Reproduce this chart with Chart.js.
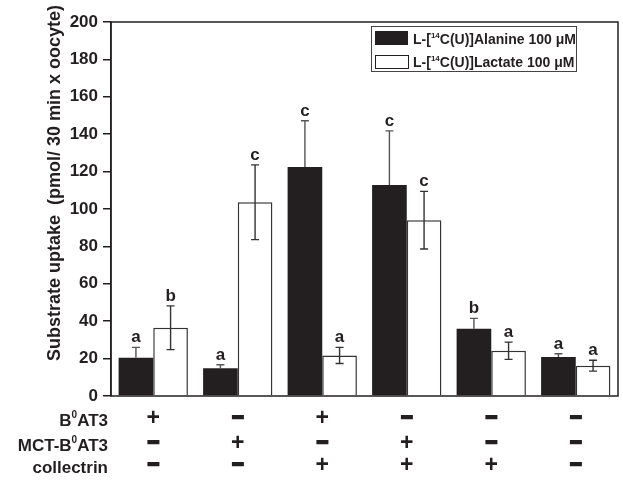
<!DOCTYPE html>
<html lang="en">
<head>
<meta charset="UTF-8">
<title>Substrate uptake</title>
<script src="https://cdn.jsdelivr.net/npm/chart.js"></script>
<style>
  html, body { margin: 0; padding: 0; background: #fff; }
  #wrap { width: 623px; height: 481px; }
</style>
</head>
<body>
<div id="wrap"><canvas id="uptakeChart" width="623" height="481"></canvas></div>
<script>
// data
var groups = ['1', '2', '3', '4', '5', '6'];
var alanine = [20.5, 14.8, 122.5, 112.8, 36, 20.8];
var alanineErr = [5.5, 1.9, 24.7, 29, 5.5, 1.8];
var lactate = [36.5, 103.6, 21.7, 94, 24.2, 16.2];
var lactateErr = [11.7, 20, 4.3, 15.4, 4.6, 2.9];
var alanineLetters = ['a', 'a', 'c', 'c', 'b', 'a'];
var lactateLetters = ['b', 'c', 'a', 'c', 'a', 'a'];
var yTicks = [0, 20, 40, 60, 80, 100, 120, 140, 160, 180, 200];

// condition table under the bars
var b0at3 = ['+', '-', '+', '-', '-', '-'];
var mctB0at3 = ['-', '+', '-', '+', '-', '-'];
var collectrin = ['-', '-', '+', '+', '+', '-'];

var ink = '#231f20';
var fontName = '"Liberation Sans", Arial, sans-serif';

// text with a superscript piece (B0AT3, 14C)
function drawSupText(ctx, parts, x, y, size, align) {
    var w = 0;
    parts.forEach(function (p) {
        ctx.font = 'bold ' + (p[1] ? Math.round(size * 0.6) : size) + 'px ' + fontName;
        w += ctx.measureText(p[0]).width;
    });
    var cx = align === 'right' ? x - w : x;
    ctx.textAlign = 'left';
    ctx.textBaseline = 'alphabetic';
    parts.forEach(function (p) {
        ctx.font = 'bold ' + (p[1] ? Math.round(size * 0.6) : size) + 'px ' + fontName;
        ctx.fillText(p[0], cx, p[1] ? y - size * 0.45 : y);
        cx += ctx.measureText(p[0]).width;
    });
}

var extras = {
    id: 'extras',
    afterDatasetsDraw: function (chart) {
        var ctx = chart.ctx;
        var y = chart.scales.y;
        var area = chart.chartArea;
        var sets = [[alanine, alanineErr, alanineLetters], [lactate, lactateErr, lactateLetters]];
        ctx.save();
        // error bars (lower half hidden inside the black bars)
        sets.forEach(function (s, d) {
            var meta = chart.getDatasetMeta(d);
            meta.data.forEach(function (bar, i) {
                var top = y.getPixelForValue(s[0][i] + s[1][i]);
                var mid = y.getPixelForValue(s[0][i]);
                var low = y.getPixelForValue(s[0][i] - s[1][i]);
                ctx.strokeStyle = d === 0 ? '#555' : '#333';
                ctx.lineWidth = 1.4;
                ctx.beginPath();
                ctx.moveTo(bar.x, top);
                ctx.lineTo(bar.x, d === 0 ? mid : low);
                ctx.moveTo(bar.x - 4, top); ctx.lineTo(bar.x + 4, top);
                if (d === 1) {
                    ctx.moveTo(bar.x - 4, low); ctx.lineTo(bar.x + 4, low);
                }
                ctx.stroke();
                // significance letter
                ctx.fillStyle = ink;
                ctx.font = 'bold 17px ' + fontName;
                ctx.textAlign = 'center';
                ctx.textBaseline = 'alphabetic';
                ctx.fillText(s[2][i], bar.x, top - 5);
            });
        });
        // frame round the plot
        ctx.strokeStyle = ink;
        ctx.lineWidth = 1.5;
        ctx.strokeRect(area.left, area.top, area.right - area.left, area.bottom - area.top);

        // legend
        ctx.lineWidth = 1;
        ctx.strokeStyle = '#444';
        ctx.strokeRect(371.5, 26.5, 205, 45);
        ctx.fillStyle = ink;
        ctx.fillRect(375, 31, 33, 14);
        ctx.strokeStyle = ink;
        ctx.strokeRect(375.5, 55.5, 33, 13);
        ctx.fillStyle = ink;
        drawSupText(ctx, [['L-[', false], ['14', true], ['C(U)]Alanine 100 \u03bcM', false]], 413, 44, 14, 'left');
        drawSupText(ctx, [['L-[', false], ['14', true], ['C(U)]Lactate 100 \u03bcM', false]], 413, 67, 14, 'left');
        ctx.restore();
    },
    afterDraw: function (chart) {
        var ctx = chart.ctx;
        var x = chart.scales.x;
        ctx.save();
        ctx.fillStyle = ink;
        // y axis title
        ctx.translate(55, 183);
        ctx.rotate(-Math.PI / 2);
        ctx.font = 'bold 18px ' + fontName;
        ctx.textAlign = 'center';
        ctx.textBaseline = 'middle';
        ctx.fillText('Substrate uptake  (pmol/ 30 min x oocyte)', 0, 0);
        ctx.restore();

        ctx.save();
        ctx.fillStyle = ink;
        ctx.strokeStyle = ink;
        var rows = [b0at3, mctB0at3, collectrin];
        var rowY = [426, 451, 473];
        drawSupText(ctx, [['B', false], ['0', true], ['AT3', false]], 108, rowY[0], 17, 'right');
        drawSupText(ctx, [['MCT-B', false], ['0', true], ['AT3', false]], 108, rowY[1], 17, 'right');
        drawSupText(ctx, [['collectrin', false]], 108, rowY[2], 17, 'right');
        rows.forEach(function (row, r) {
            row.forEach(function (sign, i) {
                var cx = x.getPixelForValue(i);
                ctx.textAlign = 'center';
                ctx.textBaseline = 'middle';
                if (sign === '+') {
                    ctx.font = 'bold 23px ' + fontName;
                    ctx.fillText('+', cx, rowY[r] - 7);
                } else {
                    ctx.font = 'bold 20px ' + fontName;
                    ctx.lineWidth = 2;
                    ctx.fillText('\u2212', cx, rowY[r] - 8);
                    ctx.strokeText('\u2212', cx, rowY[r] - 8);
                }
            });
        });
        ctx.restore();
    }
};

var ctx = document.getElementById('uptakeChart').getContext('2d');
var myChart = new Chart(ctx, {
    type: 'bar',
    data: {
        labels: groups,
        datasets: [{
            label: 'L-[14C(U)]Alanine 100 \u03bcM',
            data: alanine,
            backgroundColor: ink,
            borderColor: ink,
            borderWidth: 0,
            categoryPercentage: 0.82,
            barPercentage: 1.0
        }, {
            label: 'L-[14C(U)]Lactate 100 \u03bcM',
            data: lactate,
            backgroundColor: '#ffffff',
            borderColor: '#333',
            borderWidth: 1.5,
            categoryPercentage: 0.82,
            barPercentage: 1.0
        }]
    },
    options: {
        responsive: false,
        animation: false,
        layout: { padding: { left: 0, top: 22, right: 5, bottom: 85 } },
        plugins: {
            legend: { display: false },
            tooltip: { enabled: false }
        },
        scales: {
            x: {
                ticks: { display: false },
                grid: { display: false },
                border: { display: false },
                afterFit: function (scale) { scale.height = 0; }
            },
            y: {
                min: 0,
                max: 200,
                afterBuildTicks: function (scale) {
                    scale.ticks = yTicks.map(function (v) { return { value: v }; });
                },
                ticks: {
                    color: ink,
                    padding: 5,
                    font: { family: fontName, size: 17, weight: 'bold' }
                },
                grid: {
                    drawOnChartArea: false,
                    tickLength: 8,
                    color: ink,
                    lineWidth: 1.5
                },
                border: { color: ink, width: 1.5 },
                afterFit: function (scale) { scale.width = 111; }
            }
        }
    },
    plugins: [extras]
});
</script>
</body>
</html>
